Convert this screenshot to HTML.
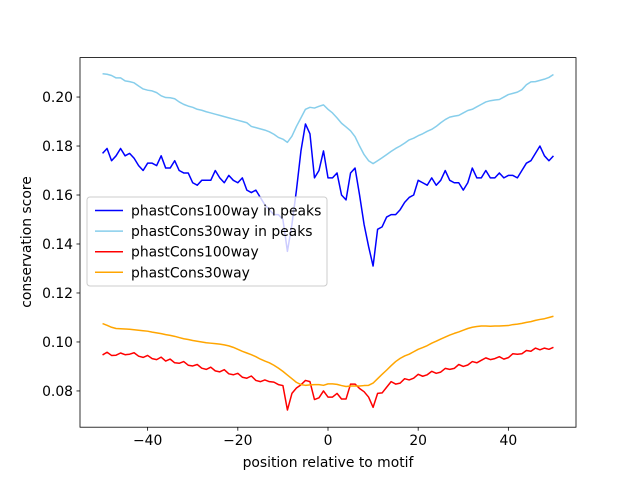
<!DOCTYPE html>
<html><head><meta charset="utf-8"><style>
body{margin:0;background:#fff;}
svg text{font-family:"DejaVu Sans","Liberation Sans",sans-serif;font-size:13.9px;fill:#000;}
</style></head><body>
<svg id="chart" width="640" height="480" xmlns="http://www.w3.org/2000/svg">
<rect width="640" height="480" fill="#fff"/>
<g id="lines"></g>
<g id="axes"></g>
</svg>
<script>
const positions = []; for (let i = -50; i <= 50; i++) positions.push(i);
const xTicks = [-40, -20, 0, 20, 40];
const yTicks = [0.08, 0.10, 0.12, 0.14, 0.16, 0.18, 0.20];
const seriesNames = ["phastCons100way in peaks","phastCons30way in peaks","phastCons100way","phastCons30way"];
const seriesColors = ["#0000ff","#87ceeb","#ff0000","#ffa500"];
const peaks100 = [.177,.179,.174,.176,.179,.176,.177,.175,.172,.170,
.173,.173,.172,.176,.171,.171,.174,.170,.169,.169,
.165,.164,.166,.166,.166,.170,.167,.165,.168,.166,
.165,.167,.162,.161,.162,.159,.156,.154,.152,.152,
.150,.137,.148,.162,.178,.189,.185,.167,.170,.178,
.167,.167,.169,.160,.158,.169,.171,.160,.148,.139,
.131,.146,.147,.151,.152,.152,.154,.157,.159,.160,
.166,.165,.164,.167,.164,.166,.170,.166,.165,.165,
.162,.165,.171,.167,.167,.170,.167,.167,.169,.167,
.168,.168,.167,.170,.173,.174,.177,.180,.176,.174,.176];
const peaks30 = [.2095,.2093,.2088,.2078,.2078,.2066,.2063,.2058,.2045,.2033,
.2028,.2025,.2018,.2005,.1998,.1997,.1993,.1980,.1970,.1963,
.1958,.1950,.1946,.1940,.1935,.1930,.1925,.1920,.1915,.1910,
.1905,.1900,.1895,.1880,.1875,.1870,.1865,.1858,.1848,.1835,
.1828,.1815,.1840,.1880,.1915,.1950,.1958,.1955,.1962,.1968,
.1950,.1935,.1915,.1893,.1878,.1862,.1838,.1800,.1765,.1740,.1728,
.1740,.1752,.1765,.1778,.1790,.1800,.1812,.1825,.1832,.1842,
.1850,.1860,.1868,.1880,.1895,.1908,.1918,.1922,.1925,.1935,
.1945,.1950,.1960,.1970,.1980,.1985,.1988,.1990,.2000,.2010,
.2015,.2020,.2030,.2050,.2062,.2063,.2068,.2073,.2080,.2092];
const all100 = [.0947,.0958,.0945,.0946,.0955,.0948,.0950,.0956,.0942,.0937,
.0945,.0932,.0928,.0938,.0922,.0930,.0915,.0913,.0920,.0905,
.0902,.0908,.0893,.0888,.0897,.0882,.0878,.0887,.0870,.0866,
.0872,.0856,.0852,.0861,.0843,.0838,.0845,.0838,.0836,.0826,
.0822,.0722,.0790,.0812,.0825,.0843,.0838,.0765,.0772,.0800,
.0775,.0775,.0790,.0767,.0767,.0828,.0828,.0810,.0797,.0775,
.0733,.0790,.0792,.0815,.0838,.0828,.0832,.0850,.0845,.0852,
.0868,.0860,.0866,.0880,.0872,.0877,.0892,.0888,.0892,.0908,
.0900,.0906,.0920,.0915,.0925,.0935,.0928,.0932,.0940,.0930,
.0936,.0952,.0950,.0952,.0965,.0962,.0975,.0968,.0975,.0970,.0978];
const all30 = [.1075,.1068,.1060,.1055,.1054,.1053,.1052,.1050,.1048,.1046,
.1044,.1040,.1037,.1034,.1030,.1027,.1023,.1018,.1013,.1010,
.1006,.1003,.1000,.0997,.0995,.0993,.0991,.0988,.0984,.0978,
.0970,.0962,.0955,.0948,.0940,.0930,.0922,.0915,.0905,.0893,
.0880,.0865,.0850,.0835,.0826,.0823,.0825,.0826,.0826,.0823,
.0829,.0829,.0827,.0822,.0818,.0820,.0820,.0820,.0822,.0823,
.0832,.0850,.0868,.0885,.0903,.0920,.0933,.0943,.0950,.0960,
.0970,.0977,.0985,.0995,.1003,.1012,.1020,.1028,.1035,.1041,
.1048,.1055,.1060,.1063,.1065,.1065,.1064,.1065,.1065,.1066,
.1067,.1071,.1073,.1076,.1080,.1083,.1088,.1092,.1095,.1100,.1105];

const NS = "http://www.w3.org/2000/svg";
const L = 80, R = 576, T = 57.6, B = 427.2;
const xMin = -55, xMax = 55, yMin = 0.0652, yMax = 0.2161;
const xs = v => L + (v - xMin) / (xMax - xMin) * (R - L);
const ys = v => B - (v - yMin) / (yMax - yMin) * (B - T);
function mk(tag, attrs, parent) { const e = document.createElementNS(NS, tag); for (const k in attrs) e.setAttribute(k, attrs[k]); parent.appendChild(e); return e; }

const lines = document.getElementById('lines');
const axes = document.getElementById('axes');
const series = [peaks100, peaks30, all100, all30];
const lineNames = ['line-phastcons100way-peaks','line-phastcons30way-peaks','line-phastcons100way','line-phastcons30way'];
series.forEach((s, i) => {
  const d = s.map((v, j) => (j ? 'L' : 'M') + xs(positions[j]).toFixed(2) + ' ' + ys(v).toFixed(2)).join(' ');
  const p = mk('path', {d: d, fill: 'none', stroke: seriesColors[i], 'stroke-width': 1.5, 'stroke-linejoin': 'round'}, lines);
  
  
});

const frame = mk('rect', {x: L, y: T, width: R - L, height: B - T, fill: 'none', stroke: '#000', 'stroke-width': 0.8}, axes);



xTicks.forEach(t => {
  const x = xs(t);
  const tk = mk('line', {x1: x, x2: x, y1: B, y2: B + 3.5, stroke: '#000', 'stroke-width': 0.8}, axes);
  
  
  const tx = mk('text', {x: x, y: B + 18, 'text-anchor': 'middle'}, axes);
  tx.textContent = t < 0 ? '\u2212' + Math.abs(t) : String(t);
  
  
});
yTicks.forEach(t => {
  const y = ys(t);
  const tk = mk('line', {x1: L - 3.5, x2: L, y1: y, y2: y, stroke: '#000', 'stroke-width': 0.8}, axes);
  
  
  const tx = mk('text', {x: L - 7, y: y + 5, 'text-anchor': 'end'}, axes);
  tx.textContent = t.toFixed(2);
  
  
});
const xl = mk('text', {x: 328, y: 467, 'text-anchor': 'middle'}, axes);
xl.textContent = 'position relative to motif';


const yl = mk('text', {x: 31, y: 242, 'text-anchor': 'middle', transform: 'rotate(-90 31 242)'}, axes);
yl.textContent = 'conservation score';



const lg = mk('g', {}, axes);


mk('rect', {x: 87, y: 197, width: 240, height: 89, rx: 3, fill: '#fff', 'fill-opacity': 0.8, stroke: '#ccc', 'stroke-width': 1}, lg);
seriesNames.forEach((n, i) => {
  const y = 210.5 + i * 20.6;
  const en = mk('g', {}, lg);
  
  
  mk('line', {x1: 95, x2: 123, y1: y, y2: y, stroke: seriesColors[i], 'stroke-width': 1.5}, en);
  const t = mk('text', {x: 131, y: y + 5}, en);
  t.textContent = n;
});
</script>
</body></html>
